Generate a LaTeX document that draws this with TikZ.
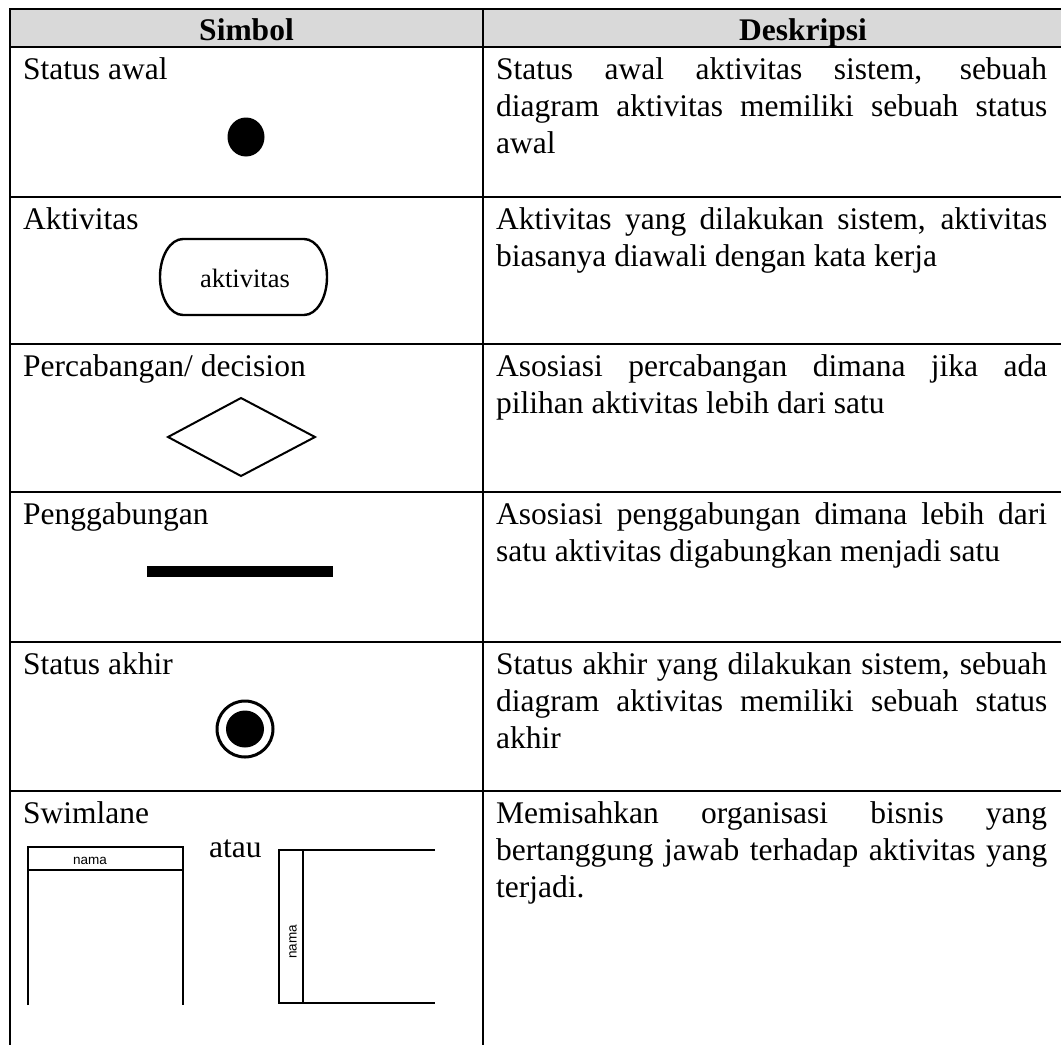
\documentclass[tikz,border=0pt]{standalone}
\usepackage{fontspec}
\setmainfont{Liberation Serif}
\newfontfamily\lanefont{Liberation Sans}
\newcommand\bodysize{\fontsize{31.5pt}{36.2pt}\selectfont}
% a justified line of the description column
\newcommand\jl[1]{\makebox[551pt][s]{#1}}
\definecolor{headgray}{RGB}{217,217,217}

\begin{document}
\begin{tikzpicture}[x=1pt,y=-1pt,
  grid/.style={line width=2.2pt},
  lane/.style={line width=2.7pt},
  txt/.style={anchor=base west, inner sep=0pt, font=\bodysize},
  head/.style={anchor=base, inner sep=0pt, font=\bodysize\bfseries},
  small/.style={inner sep=0pt, font=\lanefont\fontsize{13.5pt}{16pt}\selectfont}]

\useasboundingbox (0,0) rectangle (1061,1045);

% header band
\fill[headgray] (10,9) rectangle (1061,47);

% table rules
\draw[grid] (9,9) -- (1061,9);
\draw[grid] (9,47) -- (1061,47);
\draw[grid] (9,197) -- (1061,197);
\draw[grid] (9,344) -- (1061,344);
\draw[grid] (9,492) -- (1061,492);
\draw[grid] (9,642) -- (1061,642);
\draw[grid] (9,791) -- (1061,791);
\draw[grid] (10,8) -- (10,1045);
\draw[grid] (483,8) -- (483,1045);

% header
\node[head] (hsim) at (246.5,40) {Simbol};
\node[head] (hdes) at (803,40) {Deskripsi};

% row 1: initial state
\node[txt] (l1) at (23,79) {Status awal};
\fill (246,137) ellipse [x radius=18.5, y radius=19.5];
\node[txt] (d1a) at (496,79) {\jl{Status awal aktivitas sistem, sebuah}};
\node[txt] (d1b) at (496,116) {\jl{diagram aktivitas memiliki sebuah status}};
\node[txt] (d1c) at (496,153) {awal};

% row 2: activity
\node[txt] (l2) at (23,229) {Aktivitas};
\draw[line width=2.4pt] (183,239) -- (304,239)
  arc [start angle=-90, end angle=90, x radius=23, y radius=38]
  -- (183,315)
  arc [start angle=90, end angle=270, x radius=23, y radius=38] -- cycle;
\node[anchor=base, inner sep=0pt, font=\fontsize{26.5pt}{30pt}\selectfont]
  (act) at (245,287) {aktivitas};
\node[txt] (d2a) at (496,229) {\jl{Aktivitas yang dilakukan sistem, aktivitas}};
\node[txt] (d2b) at (496,266) {biasanya diawali dengan kata kerja};

% row 3: decision
\node[txt] (l3) at (23,376) {Percabangan/ decision};
\draw[line width=2pt, line join=miter] (168,437) -- (241,398) -- (315,437) -- (241,476) -- cycle;
\node[txt] (d3a) at (496,376) {\jl{Asosiasi percabangan dimana jika ada}};
\node[txt] (d3b) at (496,413) {pilihan aktivitas lebih dari satu};

% row 4: join bar
\node[txt] (l4) at (23,524) {Penggabungan};
\fill (147,566) rectangle (333,577);
\node[txt] (d4a) at (496,524) {\jl{Asosiasi penggabungan dimana lebih dari}};
\node[txt] (d4b) at (496,561) {satu aktivitas digabungkan menjadi satu};

% row 5: final state
\node[txt] (l5) at (23,674) {Status akhir};
\draw[line width=3pt] (245,729) ellipse [x radius=28, y radius=28];
\fill (245,729) ellipse [x radius=19, y radius=18.5];
\node[txt] (d5a) at (496,674) {\jl{Status akhir yang dilakukan sistem, sebuah}};
\node[txt] (d5b) at (496,711) {\jl{diagram aktivitas memiliki sebuah status}};
\node[txt] (d5c) at (496,748) {akhir};

% row 6: swimlanes
\node[txt] (l6) at (23,823) {Swimlane};
\draw[lane] (28,1005) -- (28,847) -- (183,847) -- (183,1005);
\draw[lane] (28,870) -- (183,870);
\node[small] (n1) at (90,861) {nama};
\node[txt] (atau) at (209,857) {atau};
\draw[lane] (435,850) -- (279,850) -- (279,1003) -- (435,1003);
\draw[lane] (303,850) -- (303,1003);
\node[small, rotate=90] (n2) at (293,942) {nama};
\node[txt] (d6a) at (496,823) {\jl{Memisahkan organisasi bisnis yang}};
\node[txt] (d6b) at (496,860) {\jl{bertanggung jawab terhadap aktivitas yang}};
\node[txt] (d6c) at (496,897) {terjadi.};
\end{tikzpicture}
\end{document}
